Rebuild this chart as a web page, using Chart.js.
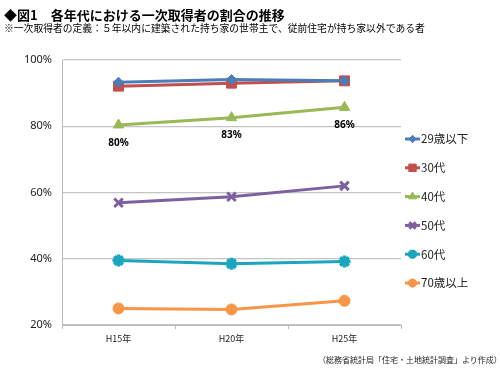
<!DOCTYPE html>
<html><head><meta charset="utf-8">
<script src="https://cdn.jsdelivr.net/npm/chart.js@4"></script>
<style>
html,body{margin:0;padding:0;background:#fff;}
#wrap{position:relative;width:500px;height:374px;font-family:"Noto Sans CJK JP","Noto Sans",sans-serif;}
canvas{position:absolute;left:0;top:0;}
.t{position:absolute;white-space:nowrap;color:#000;}
</style></head><body>
<div id="wrap">
<canvas id="c" width="500" height="374"></canvas>
<div class="t" style="left:4px;top:6px;font-size:13px;font-weight:bold;line-height:17px;">◆図1　各年代における一次取得者の割合の推移</div>
<div class="t" style="left:4px;top:22px;font-size:9.8px;line-height:12px;">※一次取得者の定義：５年以内に建築された持ち家の世帯主で、従前住宅が持ち家以外である者</div>
<div class="t" style="left:318px;top:354px;font-size:8px;line-height:12px;color:#222;">（総務省統計局「住宅・土地統計調査」より作成）</div>
</div>
<script>
const categories = ["H15年", "H20年", "H25年"];
const seriesNames = ["29歳以下", "30代", "40代", "50代", "60代", "70歳以上"];
const age29 = [93.3, 94.1, 93.7];
const age30 = [92.1, 93.0, 93.7];
const age40 = [80.4, 82.6, 85.7];
const age50 = [56.9, 58.7, 62.0];
const age60 = [39.5, 38.5, 39.2];
const age70 = [25.0, 24.7, 27.3];
const labels40 = ["80%", "83%", "86%"];
const yTicks = [20, 40, 60, 80, 100];

const colors = ["#4a7ebb", "#c0504d", "#98b954", "#7d60a0", "#1ba6bd", "#f79646"];
const styles = ["rectRot", "rect", "triangle", "crossRot", "star", "circle"];
const radii = [5, 7, 6, 6, 6, 5.5];
const bw = [1, 1, 1, 3, 3.5, 1];
const values = [age29, age30, age40, age50, age60, age70];

const datasets = values.map((v, i) => ({
  label: seriesNames[i],
  data: v,
  borderColor: colors[i],
  backgroundColor: colors[i],
  borderWidth: 3,
  pointStyle: styles[i],
  pointRadius: radii[i],
  pointBorderWidth: bw[i],
  pointBorderColor: colors[i],
  pointBackgroundColor: colors[i],
  tension: 0
}));

const labelPlugin = {
  id: "lab40",
  afterDatasetsDraw(chart) {
    const ctx = chart.ctx;
    const meta = chart.getDatasetMeta(2);
    ctx.save();
    ctx.font = "bold 10px 'Noto Sans', sans-serif";
    ctx.fillStyle = "#000";
    ctx.textAlign = "center";
    ctx.textBaseline = "middle";
    meta.data.forEach((p, i) => {
      ctx.fillText(labels40[i], p.x, p.y + 18);
    });
    ctx.restore();
  }
};

const legendPlugin = {
  id: "customLegend",
  afterDraw(chart) {
    const ctx = chart.ctx;
    ctx.save();
    const x0 = 405, x1 = 420;
    chart.data.datasets.forEach((ds, i) => {
      const y = 139 + i * 28.8;
      ctx.strokeStyle = ds.borderColor;
      ctx.lineWidth = 3;
      ctx.beginPath(); ctx.moveTo(x0, y); ctx.lineTo(x1, y); ctx.stroke();
      ctx.fillStyle = ds.backgroundColor;
      ctx.lineWidth = ds.pointBorderWidth;
      Chart.helpers.drawPoint(ctx, {pointStyle: ds.pointStyle, radius: ds.pointRadius * 0.75, borderWidth: ds.pointBorderWidth, rotation: 0}, (x0 + x1) / 2, y);
      ctx.fillStyle = "#222";
      ctx.font = "11.5px 'Noto Sans CJK JP', sans-serif";
      ctx.textAlign = "left";
      ctx.textBaseline = "middle";
      ctx.fillText(ds.label, x1 + 1, y);
    });
    ctx.restore();
  }
};

new Chart(document.getElementById("c"), {
  type: "line",
  data: { labels: categories, datasets },
  options: {
    responsive: false,
    animation: false,
    devicePixelRatio: 1,
    layout: { padding: { top: 60, right: 99, bottom: 0, left: 0 } },
    plugins: { legend: { display: false }, tooltip: { enabled: false } },
    scales: {
      x: {
        offset: true,
        grid: { display: true, drawOnChartArea: false, offset: true, tickLength: 4, color: "#bbb" },
        border: { color: "#bbb", width: 1 },
        ticks: { color: "#222", font: { size: 9, family: "'Noto Sans CJK JP', sans-serif" }, padding: 4 },
        afterFit(s) { s.height = 49; }
      },
      y: {
        min: 20, max: 100,
        afterBuildTicks(s) { s.ticks = yTicks.map(v => ({ value: v })); },
        grid: { color: "#c4c4c4", drawTicks: false, lineWidth: 1.2 },
        border: { color: "#bbb", width: 1 },
        ticks: { color: "#222", font: { size: 11, family: "'Noto Sans', sans-serif" }, padding: 10, callback: v => v + "%" },
        afterFit(s) { s.width = 62; }
      }
    }
  },
  plugins: [labelPlugin, legendPlugin]
});
</script>
</body></html>
